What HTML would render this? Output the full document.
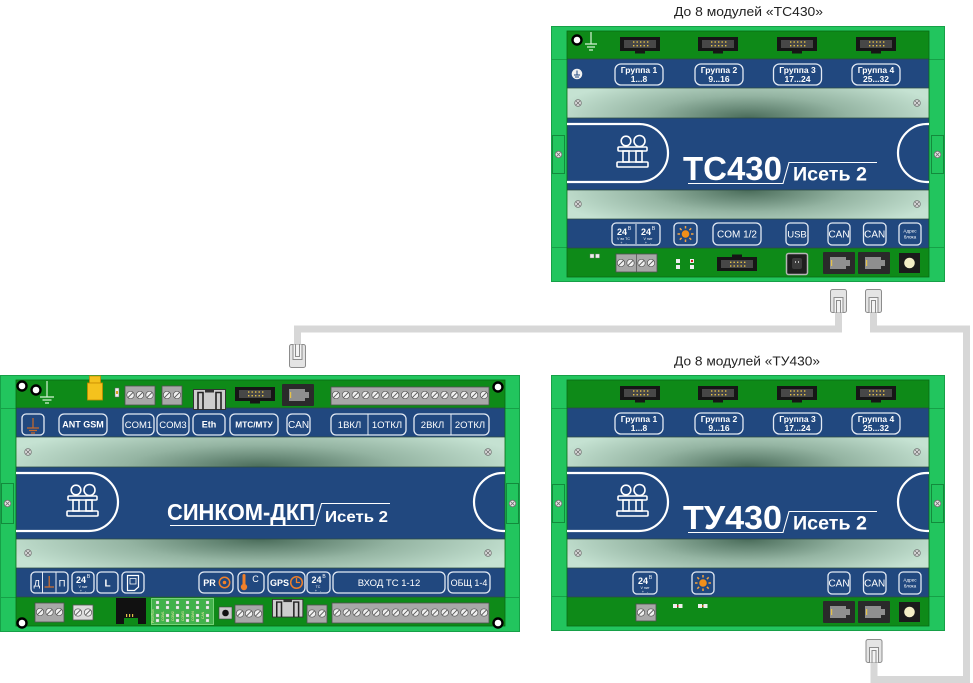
<!DOCTYPE html>
<html><head><meta charset="utf-8"><style>
html,body{margin:0;padding:0;background:#fff;}
svg{display:block;font-family:"Liberation Sans",Arial,sans-serif;}
</style></head><body>
<svg width="973" height="683" viewBox="0 0 973 683" xmlns="http://www.w3.org/2000/svg">
<style>
.bx{fill:none;stroke:#e3eaf4;stroke-width:1.3}
.w{fill:#fff;text-anchor:middle}
.b{font-weight:bold}
.tb{fill:#a8a8a8;stroke:#505050;stroke-width:0.8}
</style>
<defs>
<radialGradient id="gT" cx="0" cy="0" r="1" gradientTransform="translate(0.5 1) scale(0.55 1.5)">
<stop offset="0" stop-color="#4a6c5a"/><stop offset="0.5" stop-color="#94b4a2"/><stop offset="1" stop-color="#c5e2d2"/>
</radialGradient>
<radialGradient id="gB" cx="0" cy="0" r="1" gradientTransform="translate(0.5 0) scale(0.55 1.5)">
<stop offset="0" stop-color="#4a6c5a"/><stop offset="0.5" stop-color="#94b4a2"/><stop offset="1" stop-color="#c5e2d2"/>
</radialGradient>
<g id="scr"><circle r="3.3" fill="#e6e6e6" stroke="#707070" stroke-width="0.8"/><path d="M-1.8,-1.8L1.8,1.8M1.8,-1.8L-1.8,1.8" stroke="#707070" stroke-width="0.8"/></g>
<g id="ts"><circle r="3.7" fill="#efefef" stroke="#555" stroke-width="0.7"/><path d="M-2.4,2.4L2.4,-2.4" stroke="#555" stroke-width="0.9"/></g>
<g id="idc"><rect width="40" height="14" fill="#161616"/><rect x="4" y="3" width="32" height="8" fill="#474747"/><rect x="15" y="14" width="10" height="2.5" fill="#161616"/>
<g fill="#e6c24a"><rect x="13" y="4.3" width="1.4" height="1.4"/><rect x="16.5" y="4.3" width="1.4" height="1.4"/><rect x="20" y="4.3" width="1.4" height="1.4"/><rect x="23.5" y="4.3" width="1.4" height="1.4"/><rect x="27" y="4.3" width="1.4" height="1.4"/>
<rect x="13" y="8" width="1.4" height="1.4"/><rect x="16.5" y="8" width="1.4" height="1.4"/><rect x="20" y="8" width="1.4" height="1.4"/><rect x="23.5" y="8" width="1.4" height="1.4"/><rect x="27" y="8" width="1.4" height="1.4"/></g></g>
<g id="rj"><rect width="32" height="22" rx="1" fill="#2a2a2a"/><path d="M7,5H23V8H27V14H23V17H7Z" fill="#8f8f8f"/><rect x="8" y="8" width="1.2" height="6" fill="#e6c24a"/></g>
<g id="plug"><rect x="0.5" y="0.5" width="16" height="23" rx="2" fill="#e4e4e4" stroke="#8c8c8c"/><path d="M4,23.5V8.5H13V23.5" fill="#f4f4f4" stroke="#8c8c8c"/><path d="M6.5,23.5V11.5H10.5V23.5" fill="none" stroke="#8c8c8c"/></g>
<g id="eth"><rect x="0.5" y="0.5" width="32" height="20" fill="#cdcdcd" stroke="#333"/><path d="M5,20.5V3.5H10V20.5M23,20.5V3.5H28V20.5" fill="none" stroke="#222" stroke-width="1.6"/><rect x="12" y="0.5" width="9" height="3" fill="#333"/></g>
<g id="sun"><path d="M0,-8V-5.5M0,8V5.5M-8,0H-5.5M8,0H5.5M-5.7,-5.7L-3.9,-3.9M5.7,5.7L3.9,3.9M-5.7,5.7L-3.9,3.9M5.7,-5.7L3.9,-3.9" stroke="#f4a340" stroke-width="1.5"/><circle r="3.8" fill="#f18f1a"/></g>
<g id="logo" fill="none" stroke="#fff" stroke-width="1.6"><circle cx="9" cy="6" r="4.8"/><circle cx="22.5" cy="6" r="5.5"/><rect x="1" y="12" width="29" height="4" rx="1"/><rect x="6" y="16" width="6" height="11"/><rect x="19" y="16" width="6" height="11"/><rect x="0" y="27" width="31" height="5" rx="1"/></g>
<g id="frame">
<rect x="551.5" y="26.5" width="393" height="255" fill="#22c55e" stroke="#16a047"/>
<path d="M551,59.5H567M929,59.5H945M551,247.5H567M929,247.5H945" stroke="#16a047"/>
<rect x="552.5" y="135.5" width="12" height="38" fill="none" stroke="#138a3c"/>
<rect x="931.5" y="135.5" width="12" height="38" fill="none" stroke="#138a3c"/>
<use href="#scr" x="558.5" y="154.5"/><use href="#scr" x="937.5" y="154.5"/>
<rect x="567" y="31" width="362" height="28" fill="#0e8a18"/>
<rect x="567" y="59" width="362" height="29" fill="#21487f"/>
<rect x="567" y="88" width="362" height="30" fill="url(#gT)"/>
<rect x="567" y="118" width="362" height="72" fill="#21487f"/>
<rect x="567" y="190" width="362" height="29" fill="url(#gB)"/>
<rect x="567" y="219" width="362" height="29" fill="#21487f"/>
<rect x="567" y="248" width="362" height="29" fill="#0e8a18"/>
<path d="M567,88H929M567,118H929M567,190H929M567,219H929M567,59H929M567,248H929" stroke="#2c4b42" stroke-width="0.8"/>
<rect x="567" y="31" width="362" height="246" fill="none" stroke="#0a6a14" stroke-width="0.8"/>
<use href="#scr" x="578" y="103"/><use href="#scr" x="917" y="103"/><use href="#scr" x="578" y="204"/><use href="#scr" x="917" y="204"/>
<path d="M567,124H639A29,29 0 0 1 639,182H567" fill="none" stroke="#fff" stroke-width="2.2"/>
<path d="M929,124H927A29,29 0 0 0 927,182H929" fill="none" stroke="#fff" stroke-width="2.2"/>
<use href="#logo" x="617" y="135"/>
<path d="M688,183.5H783L789,162.5H877" fill="none" stroke="#fff" stroke-width="1.1"/>
<use href="#idc" x="620" y="37"/><use href="#idc" x="698" y="37"/><use href="#idc" x="777" y="37"/><use href="#idc" x="856" y="37"/>
<rect x="615" y="64" width="48" height="21" rx="6" class="bx"/><rect x="695" y="64" width="48" height="21" rx="6" class="bx"/><rect x="773.5" y="64" width="48" height="21" rx="6" class="bx"/><rect x="852" y="64" width="48" height="21" rx="6" class="bx"/>
<rect x="828" y="223" width="22" height="22" rx="4" class="bx"/><rect x="863.5" y="223" width="22.5" height="22" rx="4" class="bx"/><rect x="899" y="223" width="22" height="22" rx="4" class="bx"/>
<use href="#rj" x="823" y="252"/><use href="#rj" x="858" y="252"/>
<rect x="899" y="253" width="21" height="20" fill="#1b1b1b"/><circle cx="909.5" cy="263" r="5.3" fill="#f4efc6"/>
</g>
</defs>

<!-- cables -->
<path d="M838.5,313V329H297.5V344" fill="none" stroke="#d7d7d7" stroke-width="7"/>
<path d="M873.5,313V329H966.5V679.5H874V663" fill="none" stroke="#d7d7d7" stroke-width="7"/>

<!-- titles -->
<text x="748.5" y="16" font-size="13" fill="#222" text-anchor="middle" textLength="149" lengthAdjust="spacingAndGlyphs">До 8 модулей «ТС430»</text>
<text x="747" y="365.5" font-size="13" fill="#222" text-anchor="middle" textLength="146" lengthAdjust="spacingAndGlyphs">До 8 модулей «ТУ430»</text>

<!-- Module A: TC430 -->
<use href="#frame"/>
<circle cx="577" cy="40" r="4.5" fill="#fff" stroke="#000" stroke-width="2.4"/>
<path d="M591,32V44M585,44H597M587,47H595M589,50H593" stroke="#d5f3d5" stroke-width="1.2"/>
<circle cx="577" cy="74" r="5.3" fill="#f0f0f0"/>
<path d="M577,70.5V75M574,75H580M575,77H579" stroke="#21487f" stroke-width="1"/>
<g class="w b" font-size="8.5"><text x="639" y="73">Группа 1</text><text x="639" y="82">1...8</text>
<text x="719" y="73">Группа 2</text><text x="719" y="82">9...16</text>
<text x="797.5" y="73">Группа 3</text><text x="797.5" y="82">17...24</text>
<text x="876" y="73">Группа 4</text><text x="876" y="82">25...32</text></g>
<text x="683" y="180" font-size="33" class="b" fill="#fff" textLength="99" lengthAdjust="spacingAndGlyphs">ТС430</text>
<text x="793" y="180.5" font-size="19" class="b" fill="#fff" textLength="74" lengthAdjust="spacingAndGlyphs">Исеть 2</text>
<rect x="612" y="223" width="48" height="22" rx="4" class="bx"/>
<line x1="636" y1="224" x2="636" y2="244" stroke="#e3eaf4"/>
<g class="w"><text x="622" y="235" font-size="9" class="b">24</text><text x="629.5" y="230" font-size="5">В</text><text x="623.5" y="240" font-size="3.6">V вх ТС</text><text x="623.5" y="244" font-size="3.6">+ &#160; -</text>
<text x="646" y="235" font-size="9" class="b">24</text><text x="653.5" y="230" font-size="5">В</text><text x="648" y="240" font-size="3.6">V пит</text><text x="648" y="244" font-size="3.6">+ &#160; -</text></g>
<rect x="674" y="223" width="23" height="22" rx="4" class="bx"/><use href="#sun" x="685.5" y="234"/>
<rect x="713" y="223" width="48" height="22" rx="5" class="bx"/><text x="737" y="237.5" font-size="10" class="w">COM 1/2</text>
<rect x="786" y="223" width="22" height="22" rx="4" class="bx"/><text x="797" y="237.5" font-size="9.5" class="w">USB</text>
<text x="839" y="237.5" font-size="10" class="w">CAN</text><text x="874.7" y="237.5" font-size="10" class="w">CAN</text>
<text x="910" y="232.5" font-size="4.6" class="w">Адрес</text><text x="910" y="238.5" font-size="4.6" class="w">блока</text>
<rect x="590" y="254" width="4" height="4" fill="#eee" stroke="#777" stroke-width="0.4"/><rect x="595.5" y="254" width="4" height="4" fill="#eee" stroke="#777" stroke-width="0.4"/>
<rect x="616" y="254" width="41" height="18" class="tb"/><line x1="636.5" y1="254" x2="636.5" y2="272" stroke="#555" stroke-width="0.8"/>
<use href="#ts" x="621" y="263"/><use href="#ts" x="630.5" y="263"/><use href="#ts" x="641.5" y="263"/><use href="#ts" x="651" y="263"/>
<rect x="676" y="259" width="4" height="4" fill="#eee"/><rect x="676" y="265" width="4" height="4" fill="#eee"/>
<rect x="690" y="259" width="4" height="4" fill="#eee"/><rect x="691" y="260" width="2" height="2" fill="#d02020"/><rect x="690" y="265" width="4" height="4" fill="#eee"/>
<use href="#idc" transform="translate(717,271) scale(1,-1)"/>
<rect x="786.5" y="253.5" width="21" height="21" rx="2" fill="#1e1e1e" stroke="#b5b5b5" stroke-width="1.5"/><rect x="792" y="258" width="10" height="11" rx="2" fill="#3b3b3b"/><rect x="795" y="261" width="1" height="2" fill="#bbb"/><rect x="798" y="261" width="1" height="2" fill="#bbb"/>
<use href="#plug" x="830" y="289"/><use href="#plug" x="865" y="289"/>

<!-- Module B: TY430 -->
<use href="#frame" y="349"/>
<g class="w b" font-size="8.5"><text x="639" y="422">Группа 1</text><text x="639" y="431">1...8</text>
<text x="719" y="422">Группа 2</text><text x="719" y="431">9...16</text>
<text x="797.5" y="422">Группа 3</text><text x="797.5" y="431">17...24</text>
<text x="876" y="422">Группа 4</text><text x="876" y="431">25...32</text></g>
<text x="683" y="529" font-size="33" class="b" fill="#fff" textLength="99" lengthAdjust="spacingAndGlyphs">ТУ430</text>
<text x="793" y="529.5" font-size="19" class="b" fill="#fff" textLength="74" lengthAdjust="spacingAndGlyphs">Исеть 2</text>
<rect x="633" y="572" width="24" height="22" rx="4" class="bx"/>
<g class="w"><text x="643" y="584" font-size="9" class="b">24</text><text x="650.5" y="579" font-size="5">В</text><text x="645" y="589" font-size="3.6">V пит</text><text x="645" y="593" font-size="3.6">+ &#160; -</text></g>
<rect x="692" y="572" width="22" height="22" rx="4" class="bx"/><use href="#sun" x="703" y="583"/>
<text x="839" y="586.5" font-size="10" class="w">CAN</text><text x="874.7" y="586.5" font-size="10" class="w">CAN</text>
<text x="910" y="581.5" font-size="4.6" class="w">Адрес</text><text x="910" y="587.5" font-size="4.6" class="w">блока</text>
<rect x="636" y="604" width="20" height="17" class="tb"/><use href="#ts" x="641" y="612.5"/><use href="#ts" x="651" y="612.5"/>
<rect x="673" y="604" width="4" height="4" fill="#eee"/><rect x="677" y="605" width="1.5" height="2" fill="#d02020"/><rect x="678.5" y="604" width="4" height="4" fill="#eee"/>
<rect x="698" y="604" width="4" height="4" fill="#eee"/><rect x="702" y="605" width="1.5" height="2" fill="#c07020"/><rect x="703.5" y="604" width="4" height="4" fill="#eee"/>
<use href="#plug" x="865.5" y="639"/>

<!-- Module C: SINKOM -->
<rect x="0.5" y="375.5" width="519" height="256" fill="#22c55e" stroke="#16a047"/>
<path d="M0,408.5H16M505,408.5H520M0,597.5H16M505,597.5H520" stroke="#16a047"/>
<rect x="1.5" y="483.5" width="12" height="40" fill="none" stroke="#138a3c"/>
<rect x="506.5" y="483.5" width="12" height="40" fill="none" stroke="#138a3c"/>
<use href="#scr" x="7.5" y="503.5"/><use href="#scr" x="512.5" y="503.5"/>
<rect x="16" y="380" width="489" height="28" fill="#0e8a18"/>
<rect x="16" y="408" width="489" height="29" fill="#21487f"/>
<rect x="16" y="437" width="489" height="30" fill="url(#gT)"/>
<rect x="16" y="467" width="489" height="72" fill="#21487f"/>
<rect x="16" y="539" width="489" height="29" fill="url(#gB)"/>
<rect x="16" y="568" width="489" height="29" fill="#21487f"/>
<rect x="16" y="597" width="489" height="29" fill="#0e8a18"/>
<path d="M16,437H505M16,467H505M16,539H505M16,568H505M16,408H505M16,597H505" stroke="#2c4b42" stroke-width="0.8"/>
<rect x="16" y="380" width="489" height="246" fill="none" stroke="#0a6a14" stroke-width="0.8"/>
<use href="#scr" x="28" y="452"/><use href="#scr" x="488" y="452"/><use href="#scr" x="28" y="553"/><use href="#scr" x="488" y="553"/>
<path d="M16,473H89A29,29 0 0 1 89,531H16" fill="none" stroke="#fff" stroke-width="2.2"/>
<path d="M505,473H503A29,29 0 0 0 503,531H505" fill="none" stroke="#fff" stroke-width="2.2"/>
<use href="#logo" x="67" y="484"/>
<text x="167" y="520" font-size="23" class="b" fill="#fff" textLength="148" lengthAdjust="spacingAndGlyphs">СИНКОМ-ДКП</text>
<path d="M170,525.5H315L321.5,503.5H390" fill="none" stroke="#fff" stroke-width="1.1"/>
<text x="325" y="522" font-size="16" class="b" fill="#fff" textLength="63" lengthAdjust="spacingAndGlyphs">Исеть 2</text>
<!-- C top row -->
<circle cx="22" cy="386" r="4.5" fill="#fff" stroke="#000" stroke-width="2.4"/>
<circle cx="36" cy="390" r="4.5" fill="#fff" stroke="#000" stroke-width="2.4"/>
<path d="M47,381V397M40,397H54M42.5,400H51.5M45,403H49" stroke="#d5f3d5" stroke-width="1.2"/>
<rect x="89.5" y="376" width="11" height="7" fill="#f4c21d" stroke="#c98a00" stroke-width="0.8"/>
<rect x="87.5" y="383" width="15" height="17" fill="#f4c21d" stroke="#c98a00" stroke-width="0.8"/>
<rect x="115" y="388" width="4" height="9" fill="#f0f0f0" stroke="#666" stroke-width="0.5"/><rect x="116" y="391" width="2" height="3" fill="#d8a020"/>
<rect x="125" y="386" width="30" height="19" class="tb"/><use href="#ts" x="130.5" y="395"/><use href="#ts" x="140" y="395"/><use href="#ts" x="149.5" y="395"/>
<rect x="162" y="386" width="20" height="19" class="tb"/><use href="#ts" x="167" y="395"/><use href="#ts" x="177" y="395"/>
<use href="#eth" x="193" y="389"/>
<use href="#idc" x="235" y="387"/>
<use href="#rj" x="282" y="384"/>
<rect x="331" y="387" width="158" height="18" class="tb"/>
<g><use href="#ts" x="336" y="395"/><use href="#ts" x="345.9" y="395"/><use href="#ts" x="355.7" y="395"/><use href="#ts" x="365.6" y="395"/><use href="#ts" x="375.5" y="395"/><use href="#ts" x="385.3" y="395"/><use href="#ts" x="395.2" y="395"/><use href="#ts" x="405.1" y="395"/><use href="#ts" x="414.9" y="395"/><use href="#ts" x="424.8" y="395"/><use href="#ts" x="434.7" y="395"/><use href="#ts" x="444.5" y="395"/><use href="#ts" x="454.4" y="395"/><use href="#ts" x="464.3" y="395"/><use href="#ts" x="474.1" y="395"/><use href="#ts" x="484" y="395"/></g>
<circle cx="498" cy="387" r="4.5" fill="#fff" stroke="#000" stroke-width="2.4"/>
<!-- C blue1 -->
<rect x="22" y="414" width="22" height="21" rx="4" class="bx"/>
<path d="M33,418V428M27,428H39M29,430.5H37M31,433H35" stroke="#c8692b" stroke-width="1.2"/>
<rect x="59" y="414" width="48" height="21" rx="5" class="bx"/><text x="83" y="427.5" font-size="9" class="w b">ANT GSM</text>
<rect x="123" y="414" width="31" height="21" rx="5" class="bx"/><text x="138.5" y="428" font-size="9.5" class="w">COM1</text>
<rect x="157" y="414" width="32" height="21" rx="5" class="bx"/><text x="173" y="428" font-size="9.5" class="w">COM3</text>
<rect x="193" y="414" width="32" height="21" rx="5" class="bx"/><text x="209" y="427.5" font-size="9" class="w b">Eth</text>
<rect x="230" y="414" width="48" height="21" rx="5" class="bx"/><text x="254" y="427.5" font-size="8.3" class="w b">MTC/MTУ</text>
<rect x="287" y="414" width="23" height="21" rx="5" class="bx"/><text x="298.5" y="428" font-size="10" class="w">CAN</text>
<rect x="331" y="414" width="75" height="21" rx="5" class="bx"/><line x1="368" y1="414.5" x2="368" y2="434.5" stroke="#e3eaf4"/>
<text x="349.5" y="428" font-size="9.5" class="w">1ВКЛ</text><text x="387" y="428" font-size="9.5" class="w">1ОТКЛ</text>
<rect x="414" y="414" width="75" height="21" rx="5" class="bx"/><line x1="451" y1="414.5" x2="451" y2="434.5" stroke="#e3eaf4"/>
<text x="432.5" y="428" font-size="9.5" class="w">2ВКЛ</text><text x="470" y="428" font-size="9.5" class="w">2ОТКЛ</text>
<!-- C blue2 -->
<rect x="31" y="572" width="37" height="21" rx="4" class="bx"/><path d="M42.5,572.5V592.5M56,572.5V592.5" stroke="#e3eaf4"/>
<text x="36.8" y="586.5" font-size="9.5" class="w">Д</text><text x="62" y="586.5" font-size="9.5" class="w">П</text>
<path d="M49.2,576V587M44.5,587H54" stroke="#d07030" stroke-width="1.2"/>
<rect x="72" y="572" width="22" height="21" rx="4" class="bx"/>
<g class="w"><text x="81" y="583" font-size="9" class="b">24</text><text x="88.5" y="578" font-size="5">В</text><text x="83" y="588" font-size="3.6">V пит</text><text x="83" y="592" font-size="3.6">+ &#160; -</text></g>
<rect x="97" y="572" width="21" height="21" rx="4" class="bx"/><text x="107.5" y="586.5" font-size="10" class="w b">L</text>
<rect x="122" y="572" width="22" height="21" rx="4" class="bx"/><path d="M127.5,575.5H138.5V587L134.5,590.5H127.5Z" fill="none" stroke="#fff" stroke-width="1.2"/><path d="M130,578.5H136V584H130Z" fill="none" stroke="#fff" stroke-width="0.8"/>
<rect x="199" y="572" width="34" height="21" rx="5" class="bx"/><text x="209.5" y="586" font-size="9" class="w b">PR</text><circle cx="224.5" cy="582.5" r="5.2" fill="none" stroke="#f0802a" stroke-width="1.5"/><circle cx="224.5" cy="582.5" r="1.8" fill="#f0802a"/>
<rect x="238" y="572" width="26" height="21" rx="5" class="bx"/><path d="M244,575.5V585" stroke="#f0802a" stroke-width="3" stroke-linecap="round"/><circle cx="244" cy="587" r="3.2" fill="#f0802a"/><text x="255.5" y="582" font-size="9" class="w">С</text>
<rect x="268" y="572" width="37" height="21" rx="5" class="bx"/><text x="279.5" y="586" font-size="9" class="w b">GPS</text><circle cx="296.5" cy="582.5" r="5.8" fill="none" stroke="#f0802a" stroke-width="1.5"/><path d="M296.5,578V582.5H300" fill="none" stroke="#f0802a" stroke-width="1.3"/>
<rect x="307" y="572" width="23" height="21" rx="4" class="bx"/>
<g class="w"><text x="316.5" y="583" font-size="9" class="b">24</text><text x="324" y="578" font-size="5">В</text><text x="318" y="588" font-size="3.6">ТС</text><text x="318" y="592" font-size="3.6">+ &#160; -</text></g>
<rect x="333" y="572" width="112" height="21" rx="5" class="bx"/><text x="389" y="586" font-size="9.5" class="w">ВХОД ТС 1-12</text>
<rect x="448" y="572" width="42" height="21" rx="5" class="bx"/><text x="469" y="586" font-size="9" class="w">ОБЩ 1-4</text>
<!-- C bottom row -->
<rect x="35" y="603" width="29" height="19" class="tb"/><use href="#ts" x="40" y="612"/><use href="#ts" x="49.5" y="612"/><use href="#ts" x="59" y="612"/>
<rect x="73" y="605" width="20" height="15" fill="#dcdcdc" stroke="#555" stroke-width="0.8"/><use href="#ts" x="78" y="612.5"/><use href="#ts" x="88" y="612.5"/>
<circle cx="22" cy="623" r="4.5" fill="#fff" stroke="#000" stroke-width="2.4"/>
<path d="M116,598H146V624H138V618H124V624H116Z" fill="#111"/>
<rect x="126" y="614" width="1.2" height="3" fill="#e6c24a"/><rect x="129" y="614" width="1.2" height="3" fill="#e6c24a"/><rect x="132" y="614" width="1.2" height="3" fill="#e6c24a"/>
<rect x="151.5" y="598.5" width="62" height="26" fill="#41b24b" stroke="#8adf8a" stroke-width="0.8"/>
<g fill="#f2f2f2" stroke="#999" stroke-width="0.3">
<rect x="156" y="601" width="3" height="3"/><rect x="156" y="606" width="3" height="3"/><rect x="166" y="601" width="3" height="3"/><rect x="166" y="606" width="3" height="3"/><rect x="176" y="601" width="3" height="3"/><rect x="176" y="606" width="3" height="3"/><rect x="186" y="601" width="3" height="3"/><rect x="186" y="606" width="3" height="3"/><rect x="196" y="601" width="3" height="3"/><rect x="196" y="606" width="3" height="3"/><rect x="206" y="601" width="3" height="3"/><rect x="206" y="606" width="3" height="3"/>
<rect x="156" y="614" width="3" height="3"/><rect x="156" y="619" width="3" height="3"/><rect x="166" y="614" width="3" height="3"/><rect x="166" y="619" width="3" height="3"/><rect x="176" y="614" width="3" height="3"/><rect x="176" y="619" width="3" height="3"/><rect x="186" y="614" width="3" height="3"/><rect x="186" y="619" width="3" height="3"/><rect x="196" y="614" width="3" height="3"/><rect x="196" y="619" width="3" height="3"/><rect x="206" y="614" width="3" height="3"/><rect x="206" y="619" width="3" height="3"/></g>
<g fill="#e8e8a0" font-size="3.4"><text transform="translate(154,623) rotate(-90)">Pow Run</text><text transform="translate(164,621) rotate(-90)">COM1</text><text transform="translate(174,621) rotate(-90)">COM2</text><text transform="translate(184,621) rotate(-90)">COM3</text><text transform="translate(194,621) rotate(-90)">COM4</text><text transform="translate(204,619) rotate(-90)">CAN</text></g>
<rect x="219" y="607" width="13" height="12" fill="#c8c8c8" stroke="#444" stroke-width="0.6"/><circle cx="225.5" cy="613" r="3.3" fill="#111"/>
<rect x="235" y="605" width="28" height="18" class="tb"/><use href="#ts" x="240" y="613.5"/><use href="#ts" x="249" y="613.5"/><use href="#ts" x="258" y="613.5"/>
<use href="#eth" transform="translate(272,599) scale(0.95,0.88)"/>
<rect x="307" y="605" width="20" height="18" class="tb"/><use href="#ts" x="312" y="613.5"/><use href="#ts" x="322" y="613.5"/>
<rect x="332" y="603" width="157" height="20" class="tb"/>
<g><use href="#ts" x="337" y="612.5"/><use href="#ts" x="346.8" y="612.5"/><use href="#ts" x="356.6" y="612.5"/><use href="#ts" x="366.4" y="612.5"/><use href="#ts" x="376.2" y="612.5"/><use href="#ts" x="386" y="612.5"/><use href="#ts" x="395.8" y="612.5"/><use href="#ts" x="405.6" y="612.5"/><use href="#ts" x="415.4" y="612.5"/><use href="#ts" x="425.2" y="612.5"/><use href="#ts" x="435" y="612.5"/><use href="#ts" x="444.8" y="612.5"/><use href="#ts" x="454.6" y="612.5"/><use href="#ts" x="464.4" y="612.5"/><use href="#ts" x="474.2" y="612.5"/><use href="#ts" x="484" y="612.5"/></g>
<circle cx="498" cy="623" r="4.5" fill="#fff" stroke="#000" stroke-width="2.4"/>
<use href="#plug" transform="translate(289,368) scale(1,-1)"/>
</svg>
</body></html>
